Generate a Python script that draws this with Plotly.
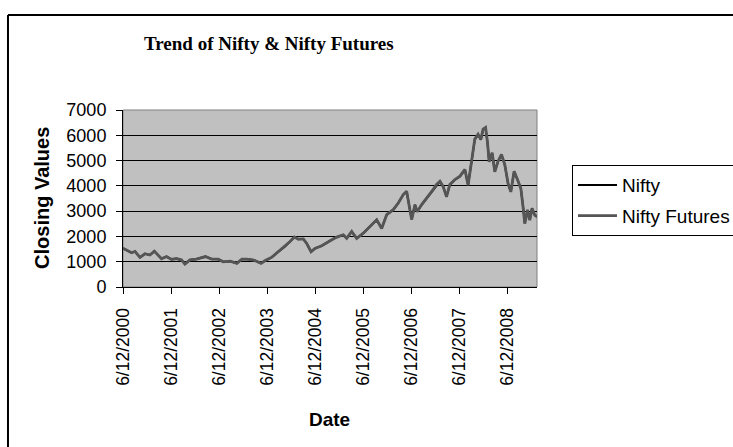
import plotly.graph_objects as go

# ---- data ----
dates = [
    "2000-06-12", "2000-07-09", "2000-08-16", "2000-09-11", "2000-10-19", "2000-11-26",
    "2001-01-03", "2001-02-05", "2001-03-07", "2001-04-01", "2001-05-09", "2001-06-16",
    "2001-07-24", "2001-08-31", "2001-09-26", "2001-11-03", "2001-12-23", "2002-03-01",
    "2002-04-16", "2002-06-06", "2002-07-14", "2002-09-05", "2002-10-26", "2002-12-03",
    "2003-01-10", "2003-03-01", "2003-04-28", "2003-05-29", "2003-07-19", "2003-09-07",
    "2003-10-27", "2003-12-04", "2004-01-06", "2004-02-06", "2004-03-14", "2004-04-09",
    "2004-05-12", "2004-06-11", "2004-08-01", "2004-10-03", "2004-11-23", "2005-01-12",
    "2005-02-07", "2005-03-17", "2005-04-24", "2005-06-13", "2005-08-03", "2005-09-23",
    "2005-10-31", "2005-12-08", "2006-01-27", "2006-03-06", "2006-04-13", "2006-05-09",
    "2006-06-03", "2006-06-16", "2006-07-11", "2006-07-28", "2006-08-31", "2006-10-20",
    "2006-11-27", "2006-12-22", "2007-01-17", "2007-02-11", "2007-03-08", "2007-04-02",
    "2007-05-11", "2007-06-18", "2007-07-26", "2007-08-19", "2007-09-14", "2007-10-09",
    "2007-11-03", "2007-11-24", "2007-12-11", "2007-12-30", "2008-01-14", "2008-01-26",
    "2008-02-18", "2008-03-09", "2008-04-03", "2008-04-29", "2008-05-24", "2008-06-18",
    "2008-07-09", "2008-08-03", "2008-08-29", "2008-09-23", "2008-10-10", "2008-10-23",
    "2008-11-13", "2008-11-30", "2008-12-17", "2009-01-07", "2009-01-24",
]

nifty = [
    1530, 1465, 1360, 1400, 1175, 1310,
    1270, 1415, 1270, 1120, 1200, 1095,
    1120, 1070, 910, 1070, 1110, 1200,
    1110, 1095, 1000, 1020, 940, 1095,
    1110, 1070, 940, 1040, 1175, 1400,
    1600, 1795, 1970, 1895, 1895, 1730,
    1400, 1530, 1625, 1835, 1970, 2060,
    1930, 2190, 1930, 2125, 2390, 2655,
    2325, 2850, 3050, 3315, 3645, 3775,
    3050, 2680, 3250, 2985, 3250, 3580,
    3845, 4040, 4175, 3975, 3580, 4040,
    4240, 4370, 4635, 4040, 4900, 5825,
    6020, 5825, 6220, 6290, 5690, 4965,
    5295, 4570, 4965, 5230, 4835, 4100,
    3775, 4570, 4240, 3910, 3180, 2525,
    3050, 2655, 3115, 2850, 2785,
]

nifty_futures = [
    1535, 1470, 1355, 1405, 1170, 1315,
    1265, 1420, 1260, 1115, 1205, 1090,
    1125, 1065, 905, 1075, 1105, 1205,
    1105, 1100, 995, 1025, 935, 1100,
    1105, 1065, 935, 1045, 1180, 1405,
    1610, 1800, 1975, 1890, 1900, 1720,
    1390, 1525, 1630, 1840, 1975, 2065,
    1925, 2195, 1920, 2130, 2395, 2660,
    2315, 2860, 3060, 3320, 3655, 3790,
    3035, 2665, 3255, 2975, 3260, 3590,
    3860, 4055, 4185, 3965, 3565, 4050,
    4250, 4385, 4650, 4020, 4915, 5850,
    6040, 5840, 6245, 6310, 5700, 4950,
    5310, 4555, 4975, 5245, 4840, 4090,
    3760, 4580, 4245, 3900, 3165, 2505,
    3040, 2640, 3105, 2840, 2775,
]

tick_dates = ["2000-06-12", "2001-06-12", "2002-06-12", "2003-06-12", "2004-06-12",
              "2005-06-12", "2006-06-12", "2007-06-12", "2008-06-12"]
tick_labels = ["6/12/2000", "6/12/2001", "6/12/2002", "6/12/2003", "6/12/2004",
               "6/12/2005", "6/12/2006", "6/12/2007", "6/12/2008"]
y_ticks = [0, 1000, 2000, 3000, 4000, 5000, 6000, 7000]

SANS = "Liberation Sans, Arial, sans-serif"
SERIF = "Liberation Serif, Times New Roman, serif"

fig = go.Figure()
fig.add_trace(go.Scatter(x=dates, y=nifty, mode="lines", name="Nifty",
                         line=dict(color="#000000", width=2), legendgroup="a"))
fig.add_trace(go.Scatter(x=dates, y=nifty_futures, mode="lines", name="Nifty Futures",
                         line=dict(color="#555555", width=2.8), legendgroup="b"))

fig.update_layout(
    width=733, height=447,
    margin=dict(l=123, r=196, t=110, b=160, pad=0, autoexpand=False),
    paper_bgcolor="white",
    plot_bgcolor="#c0c0c0",
    showlegend=True,
    legend=dict(x=1.0845, y=0.689, xanchor="left", yanchor="top",
                bordercolor="#000000", borderwidth=1, bgcolor="white",
                font=dict(family=SANS, size=19, color="black"),
                traceorder="grouped", tracegroupgap=3, itemwidth=39),
    xaxis=dict(type="date", range=["2000-06-12", "2009-01-24"],
               tickvals=tick_dates, ticktext=tick_labels, tickangle=-90,
               ticks="outside", ticklen=6, tickcolor="black", tickwidth=1,
               showgrid=False, zeroline=False, showline=True, linecolor="black",
               linewidth=1, tickfont=dict(family=SANS, size=17.5, color="black"),
               ticklabelstandoff=7),
    yaxis=dict(range=[0, 7000], tickvals=y_ticks,
               ticks="outside", ticklen=6, tickcolor="black", tickwidth=1,
               showgrid=True, gridcolor="black", gridwidth=1, zeroline=False,
               showline=True, linecolor="black", linewidth=1,
               tickfont=dict(family=SANS, size=18, color="black"),
               ticklabelstandoff=6),
    shapes=[
        dict(type="rect", xref="paper", yref="paper", x0=0, x1=1, y0=0, y1=1,
             line=dict(color="#808080", width=1), layer="below"),
        dict(type="line", xref="paper", yref="paper", x0=-0.2778, x1=-0.2778,
             y0=-1.5, y1=1.5367, line=dict(color="black", width=2), layer="below"),
        dict(type="line", xref="paper", yref="paper", x0=-0.2778, x1=2.0,
             y0=1.5367, y1=1.5367, line=dict(color="black", width=2), layer="below"),
    ],
    annotations=[
        dict(text="<b>Trend of Nifty & Nifty Futures</b>", xref="paper", yref="paper",
             x=0.3527, y=1.3785, xanchor="center", yanchor="middle", showarrow=False,
             font=dict(family=SERIF, size=19, color="black")),
        dict(text="<b>Closing Values</b>", xref="paper", yref="paper",
             x=-0.1957, y=0.503, xanchor="center", yanchor="middle", showarrow=False,
             textangle=-90, font=dict(family=SANS, size=20, color="black")),
        dict(text="<b>Date</b>", xref="paper", yref="paper",
             x=0.4976, y=-0.7514, xanchor="center", yanchor="middle", showarrow=False,
             font=dict(family=SANS, size=19, color="black")),
    ],
)

fig.write_html("out.html")
